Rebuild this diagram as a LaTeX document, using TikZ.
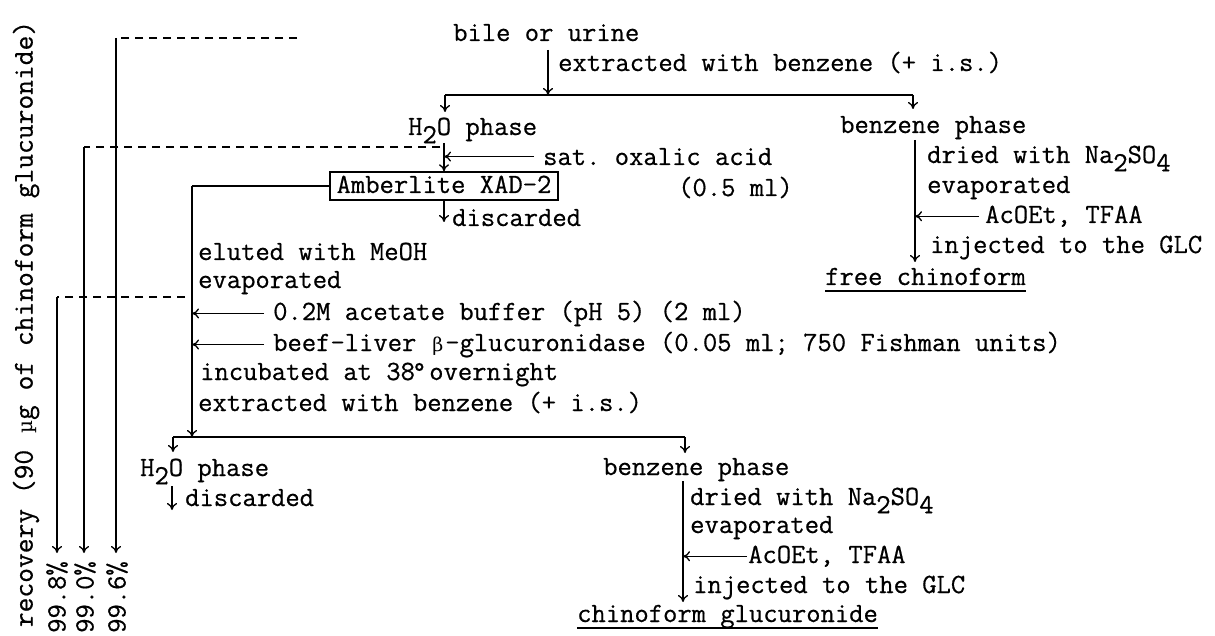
\documentclass[tikz,border=0pt]{standalone}
\usepackage{fontspec}
\setmonofont{Latin Modern Mono}[FakeBold=0.6]
\newfontfamily\grk{DejaVu Serif}
\usetikzlibrary{arrows.meta}
\newcommand\lowr[1]{\raisebox{-0.3em}{#1}}
\newcommand\gbeta{\makebox[0.525em]{\grk\fontsize{19}{20}\selectfont β}}
\newcommand\gmu{\makebox[0.525em]{\grk\fontsize{20}{20}\selectfont µ}}
\begin{document}
\begin{tikzpicture}[x=1pt,y=-1pt,
  txt/.style={anchor=base west, inner sep=0pt, font=\ttfamily\fontsize{27.8}{30}\selectfont},
  rot/.style={rotate=90, inner sep=0pt, font=\ttfamily\fontsize{27.8}{30}\selectfont},
  arr/.style={line width=1.3pt, -{To[length=7pt,width=10pt]}},
  ln/.style={line width=1.3pt},
  bar/.style={line width=2.4pt},
  dsh/.style={line width=1.4pt, dash pattern=on 8pt off 6pt},
  ul/.style={line width=1.8pt},
  ]
\useasboundingbox (0,0) rectangle (1215,636);

% ---- top part
\node[txt] (bile) at (453,41) {bile or urine};
\node[txt] (ext1) at (558,71) {extracted with benzene (+ i.s.)};
\coordinate (bs) at (548,50);
\coordinate (tb) at (548,95);
\coordinate (tbl) at (445,95);
\coordinate (tbr) at (913,95);
\coordinate (tbla) at (445,112);
\coordinate (tbra) at (913,109);
\draw[arr] (bs) -- (tb);
\draw[bar] (tbl) -- (tbr);
\draw[arr] (tbl) -- (tbla);
\draw[arr] (tbr) -- (tbra);

\node[txt] (aq1) at (408,135) {H\lowr{2}O phase};
\node[txt] (bz1) at (840,133) {benzene phase};

% aqueous branch
\node[draw, line width=1.4pt, inner xsep=6.5pt, inner ysep=4pt, text height=17pt, text depth=3pt,
      font=\ttfamily\fontsize{27.8}{30}\selectfont] (amb) at (444,186) {Amberlite XAD-2};
\coordinate (aqs) at (444,143);
\draw[arr] (aqs) -- (amb.north);
\node[txt] (oxa) at (543,165) {sat. oxalic acid};
\node[txt] (oxb) at (678,196) {(0.5 ml)};
\draw[arr] ([xshift=-9pt]oxa.west) -- (oxa.west -| amb.north);
\coordinate (d1) at (444,222);
\draw[arr] (amb.south) -- (d1);
\node[txt] (dis1) at (452,226) {discarded};

% eluate column
\coordinate (c1) at (192,186);
\coordinate (c2) at (192,437);
\draw[ln] (amb.west) -- (c1);
\draw[arr] (c1) -- (c2);
\node[txt] (elu) at (198,260) {eluted with MeOH};
\node[txt] (eva) at (198,288) {evaporated};
\node[txt] (buf) at (273,320) {0.2M acetate buffer (pH 5) (2 ml)};
\node[txt] (enz) at (273,351) {beef-liver \gbeta-glucuronidase (0.05 ml; 750 Fishman units)};
\node[txt] (inc) at (200,380) {incubated at 38\makebox[0pt][l]{\hspace{-0.1em}°} overnight};
\node[txt] (ext2) at (198,411) {extracted with benzene (+ i.s.)};
\draw[arr] ([xshift=-9pt]buf.west) -- (buf.west -| c1);
\draw[arr] ([xshift=-9pt]enz.west) -- (enz.west -| c1);

% benzene branch (free)
\coordinate (v1a) at (915,140);
\coordinate (v1b) at (915,262);
\draw[arr] (v1a) -- (v1b);
\node[txt] (dr1) at (927,163) {dried with Na\lowr{2}SO\lowr{4}};
\node[txt] (ev1) at (927,193) {evaporated};
\node[txt] (ac1) at (985,223) {AcOEt, TFAA};
\draw[arr] ([xshift=-6pt]ac1.west) -- (ac1.west -| v1a);
\node[txt] (inj1) at (930,253) {injected to the GLC};
\node[txt] (fc) at (825,285) {free chinoform};
\draw[ul] ([yshift=-6pt]fc.base west) -- ([yshift=-6pt]fc.base east);

% ---- bottom split
\coordinate (bl) at (173,437);
\coordinate (br) at (685,437);
\coordinate (bla) at (173,452);
\coordinate (bra) at (685,453);
\draw[bar] (bl) -- (br);
\draw[arr] (bl) -- (bla);
\draw[arr] (br) -- (bra);
\node[txt] (aq2) at (140,476) {H\lowr{2}O phase};
\coordinate (d2a) at (172,486);
\coordinate (d2b) at (172,510);
\draw[arr] (d2a) -- (d2b);
\node[txt] (dis2) at (185,506) {discarded};

\node[txt] (bz2) at (603,475) {benzene phase};
\coordinate (v2a) at (683,481);
\coordinate (v2b) at (683,602);
\draw[arr] (v2a) -- (v2b);
\node[txt] (dr2) at (690,505) {dried with Na\lowr{2}SO\lowr{4}};
\node[txt] (ev2) at (690,533) {evaporated};
\node[txt] (ac2) at (748,563) {AcOEt, TFAA};
\draw[arr] ([xshift=-1pt]ac2.west) -- (ac2.west -| v2a);
\node[txt] (inj2) at (693,593) {injected to the GLC};
\node[txt] (cg) at (577,622) {chinoform glucuronide};
\draw[ul] ([yshift=-6pt]cg.base west) -- ([yshift=-6pt]cg.base east);

% ---- recovery lines
\coordinate (r3s) at (297,38);
\coordinate (r3c) at (116,38);
\coordinate (r3e) at (116,553);
\draw[dsh] (r3s) -- (r3c);
\draw[arr] (r3c) -- (r3e);
\coordinate (r2s) at (440,147);
\coordinate (r2c) at (84,147);
\coordinate (r2e) at (84,553);
\draw[dsh] (r2s) -- (r2c);
\draw[arr] (r2c) -- (r2e);
\coordinate (r1s) at (185,297);
\coordinate (r1c) at (57,297);
\coordinate (r1e) at (57,553);
\draw[dsh] (r1s) -- (r1c);
\draw[arr] (r1c) -- (r1e);

\node[rot] (p1) at (57,597) {99.8\%};
\node[rot] (p2) at (85,597) {99.0\%};
\node[rot] (p3) at (117,597) {99.6\%};
\node[rot, font=\ttfamily\fontsize{28.7}{30}\selectfont] (rec) at (26,324) {recovery (90 \gmu g of chinoform glucuronide)};
\end{tikzpicture}
\end{document}
